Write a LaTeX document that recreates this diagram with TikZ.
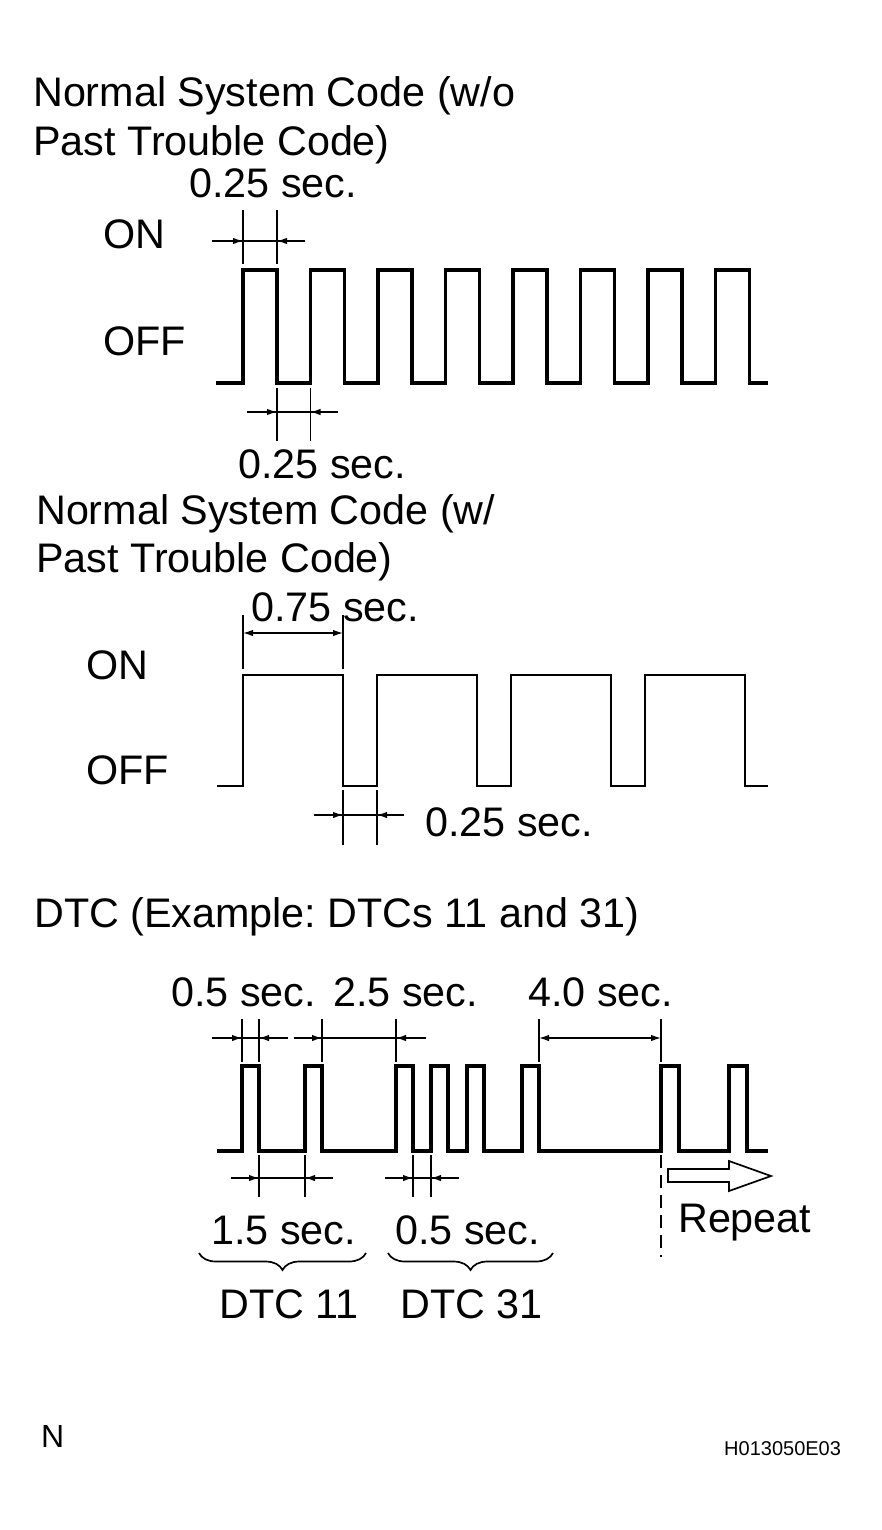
\documentclass[tikz,border=0pt]{standalone}
\usepackage{fontspec}
\setmainfont{Liberation Sans}
\usetikzlibrary{arrows.meta,decorations.pathreplacing}
\frenchspacing
\begin{document}
\begin{tikzpicture}[x=1pt,y=-1pt,
  wave/.style={line width=3.4pt, line join=miter},
  dim/.style={line width=1.4pt},
  tip/.style={-{Latex[length=10pt,width=6.5pt]}, line width=1.4pt},
  dtip/.style={{Latex[length=10pt,width=6.5pt]}-{Latex[length=10pt,width=6.5pt]}, line width=1.4pt},
  lbl/.style={anchor=base west, inner sep=0pt, font=\fontsize{41.3}{48}\selectfont},
]
\useasboundingbox (0,0) rectangle (881,1530);

% ---------- texts ----------
\node[lbl] (t1a) at (33,107) {Normal System Code (w/o};
\node[lbl] (t1b) at (33,156) {Past Trouble Code)};
\node[lbl] (d1) at (189,198) {0.25 sec.};
\node[lbl] (on1) at (103,249) {ON};
\node[lbl] (off1) at (103,355) {OFF};
\node[lbl] (d2) at (238,478) {0.25 sec.};
\node[lbl] (t2a) at (36,524) {Normal System Code (w/};
\node[lbl] (t2b) at (36,572) {Past Trouble Code)};
\node[lbl] (d3) at (251,621) {0.75 sec.};
\node[lbl] (on2) at (86,679) {ON};
\node[lbl] (off2) at (86,784) {OFF};
\node[lbl] (d4) at (425,836) {0.25 sec.};
\node[lbl] (t3) at (34,927) {DTC (Example: DTCs 11 and 31)};
\node[lbl] (d5) at (171,1006) {0.5 sec.};
\node[lbl] (d6) at (333,1006) {2.5 sec.};
\node[lbl] (d7) at (528,1006) {4.0 sec.};
\node[lbl] (d8) at (211,1244) {1.5 sec.};
\node[lbl] (d9) at (395,1244) {0.5 sec.};
\node[lbl] (c11) at (219,1318) {DTC 11};
\node[lbl] (c31) at (400,1318) {DTC 31};
\node[lbl] (rep) at (678,1232) {Repeat};
\node[anchor=base west, inner sep=0pt, font=\fontsize{32}{38}\selectfont] (nn) at (41,1447) {N};
\node[anchor=base west, inner sep=0pt, font=\fontsize{20}{24}\selectfont] (code) at (724,1455) {H013050E03};

% ---------- top waveform ----------
\draw[wave] (216,383) \foreach \i in {0,...,7} { -- ({243+67.5*\i},383) -- ({243+67.5*\i},270) -- ({277+67.5*\i},270) -- ({277+67.5*\i},383) } -- (768,383);
% dimension 0.25 (top)
\draw[dim] (243,210) -- (243,264);
\draw[dim] (277,210) -- (277,264);
\draw[dim] (212,241) -- (305,241);
\draw[tip] (212,241) -- (243,241);
\draw[tip] (305,241) -- (277,241);
% dimension 0.25 (bottom)
\draw[dim] (277,388) -- (277,441);
\draw[dim] (310.5,388) -- (310.5,441);
\draw[dim] (247,412) -- (338,412);
\draw[tip] (247,412) -- (277,412);
\draw[tip] (338,412) -- (310.5,412);

% ---------- middle waveform ----------
\draw[wave, line width=2.8pt] (217,786) -- (243,786) -- (243,675) -- (343,675) -- (343,786) -- (377,786) -- (377,675) -- (477,675) -- (477,786) -- (511,786) -- (511,675) -- (611,675) -- (611,786) -- (645,786) -- (645,675) -- (745,675) -- (745,786) -- (768,786);
% dimension 0.75
\draw[dim] (243,615) -- (243,669);
\draw[dim] (343,615) -- (343,669);
\draw[dtip] (243,633) -- (343,633);
% dimension 0.25
\draw[dim] (343,790) -- (343,845);
\draw[dim] (377,790) -- (377,845);
\draw[dim] (314,815) -- (404,815);
\draw[tip] (314,815) -- (343,815);
\draw[tip] (404,815) -- (377,815);

% ---------- DTC waveform ----------
\draw[wave] (217,1151) -- (242,1151) -- (242,1066) -- (259,1066) -- (259,1151)
  -- (305,1151) -- (305,1066) -- (322,1066) -- (322,1151)
  -- (396,1151) -- (396,1066) -- (413,1066) -- (413,1151)
  -- (431,1151) -- (431,1066) -- (448,1066) -- (448,1151)
  -- (467,1151) -- (467,1066) -- (484,1066) -- (484,1151)
  -- (522,1151) -- (522,1066) -- (539,1066) -- (539,1151)
  -- (661,1151) -- (661,1066) -- (679,1066) -- (679,1151)
  -- (729,1151) -- (729,1066) -- (747,1066) -- (747,1151) -- (768,1151);
% upper ticks
\foreach \x in {242,259,322,396,539,661} { \draw[dim] (\x,1019) -- (\x,1062); }
% 0.5 sec
\draw[dim] (212,1038) -- (288,1038);
\draw[tip] (212,1038) -- (242,1038);
\draw[tip] (288,1038) -- (259,1038);
% 2.5 sec
\draw[dim] (294,1038) -- (426,1038);
\draw[tip] (294,1038) -- (322,1038);
\draw[tip] (426,1038) -- (396,1038);
% 4.0 sec
\draw[dtip] (539,1038) -- (661,1038);
% lower ticks
\foreach \x in {259,305,413,431} { \draw[dim] (\x,1155) -- (\x,1197); }
% 1.5 sec
\draw[dim] (231,1178) -- (333,1178);
\draw[tip] (231,1178) -- (259,1178);
\draw[tip] (333,1178) -- (305,1178);
% 0.5 sec
\draw[dim] (385,1178) -- (459,1178);
\draw[tip] (385,1178) -- (413,1178);
\draw[tip] (459,1178) -- (431,1178);
% dashed repeat line
\draw[line width=1.5pt, dash pattern=on 13pt off 7pt] (661,1155) -- (661,1257);
% hollow arrow
\draw[line width=1.7pt, line join=miter] (668,1169) -- (729,1169) -- (729,1161) -- (771,1176) -- (729,1191) -- (729,1182) -- (668,1182) -- cycle;
% braces
\draw[line width=1.7pt, decorate, decoration={brace, mirror, amplitude=17pt}] (199,1253) -- (366,1253);
\draw[line width=1.7pt, decorate, decoration={brace, mirror, amplitude=17pt}] (388,1253) -- (553,1253);
\end{tikzpicture}
\end{document}
